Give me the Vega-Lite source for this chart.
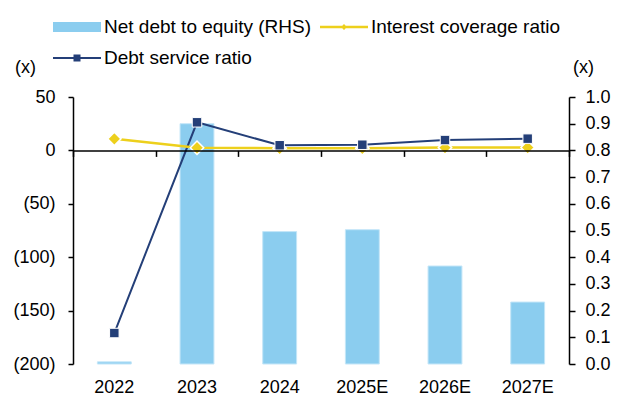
{
  "$schema": "https://vega.github.io/schema/vega-lite/v6.json",
  "width": 496,
  "height": 267,
  "autosize": {"type": "none"},
  "padding": {"left": 73, "top": 97, "right": 52, "bottom": 39},
  "background": "white",
  "config": {
    "font": "Liberation Sans",
    "view": {"stroke": null},
    "axis": {
      "labelFont": "Liberation Sans",
      "labelFontSize": 18,
      "labelColor": "#000000",
      "titleFont": "Liberation Sans",
      "titleFontSize": 18,
      "titleFontWeight": "normal",
      "titleColor": "#000000",
      "domainColor": "#000000",
      "tickColor": "#000000",
      "domainWidth": 1.5,
      "tickWidth": 1.5,
      "grid": false
    },
    "legend": {
      "title": null,
      "orient": "none",
      "legendX": -21,
      "legendY": -81,
      "columns": 2,
      "columnPadding": 5,
      "rowPadding": 10,
      "padding": 0,
      "symbolSize": 400,
      "symbolStrokeWidth": 2,
      "symbolOpacity": 1,
      "labelFont": "Liberation Sans",
      "labelFontSize": 19,
      "labelColor": "#000000",
      "labelLimit": 400,
      "labelOffset": 30
    }
  },
  "data": {
    "values": [
      {"year": "2022", "series": "Net debt to equity (RHS)", "value": 0.008},
      {"year": "2023", "series": "Net debt to equity (RHS)", "value": 0.90},
      {"year": "2024", "series": "Net debt to equity (RHS)", "value": 0.496},
      {"year": "2025E", "series": "Net debt to equity (RHS)", "value": 0.503},
      {"year": "2026E", "series": "Net debt to equity (RHS)", "value": 0.367},
      {"year": "2027E", "series": "Net debt to equity (RHS)", "value": 0.232},
      {"year": "2022", "series": "Interest coverage ratio", "value": 10.8},
      {"year": "2023", "series": "Interest coverage ratio", "value": 2.5},
      {"year": "2024", "series": "Interest coverage ratio", "value": 2.0},
      {"year": "2025E", "series": "Interest coverage ratio", "value": 2.0},
      {"year": "2026E", "series": "Interest coverage ratio", "value": 2.6},
      {"year": "2027E", "series": "Interest coverage ratio", "value": 2.7},
      {"year": "2022", "series": "Debt service ratio", "value": -171},
      {"year": "2023", "series": "Debt service ratio", "value": 26.3},
      {"year": "2024", "series": "Debt service ratio", "value": 4.8},
      {"year": "2025E", "series": "Debt service ratio", "value": 5.3},
      {"year": "2026E", "series": "Debt service ratio", "value": 9.7},
      {"year": "2027E", "series": "Debt service ratio", "value": 11.0}
    ]
  },
  "layer": [
    {
      "transform": [{"filter": "datum.series === 'Net debt to equity (RHS)'"}],
      "mark": {"type": "bar", "width": {"band": 0.41}, "fill": "#8BCDEF", "stroke": "#C4E6F8", "strokeWidth": 1},
      "encoding": {
        "x": {
          "field": "year", "type": "nominal", "sort": null,
          "scale": {"paddingInner": 0, "paddingOuter": 0},
          "axis": {"orient": "bottom", "title": null, "domain": false, "ticks": false, "labelAngle": 0, "labelPadding": 14}
        },
        "y": {
          "field": "value", "type": "quantitative",
          "scale": {"domain": [0, 1], "nice": false},
          "axis": {
            "orient": "right", "title": "(x)", "titleAngle": 0, "titleX": 14, "titleY": -30,
            "titleAlign": "center", "titleBaseline": "middle",
            "values": [0, 0.1, 0.2, 0.3, 0.4, 0.5, 0.6, 0.7, 0.8, 0.9, 1.0],
            "format": ".1f", "tickSize": 6, "labelPadding": 10
          }
        }
      }
    },
    {
      "encoding": {
        "x": {
          "field": "year", "type": "nominal", "sort": null,
          "axis": {"orient": "bottom", "title": null, "labels": false, "ticks": true, "tickSize": 6, "tickBand": "extent", "domain": true, "offset": -213.6, "zindex": 1}
        },
        "y": {
          "field": "value", "type": "quantitative",
          "scale": {"domain": [-200, 50], "nice": false},
          "axis": {
            "orient": "left", "title": "(x)", "titleAngle": 0, "titleX": -48, "titleY": -30,
            "titleAlign": "center", "titleBaseline": "middle",
            "values": [-200, -150, -100, -50, 0, 50],
            "labelExpr": "datum.value < 0 ? '(' + (-datum.value) + ')' : datum.value + '\u00a0'",
            "tickSize": 5, "labelPadding": 13
          }
        }
      },
      "layer": [
        {
          "transform": [{"filter": "datum.series === 'Debt service ratio'"}],
          "mark": {"type": "line", "strokeWidth": 2, "color": "#243F78"}
        },
        {
          "transform": [{"filter": "datum.series === 'Interest coverage ratio'"}],
          "mark": {"type": "line", "strokeWidth": 2.5, "color": "#EDD01C"}
        },
        {
          "transform": [{"filter": "datum.series === 'Interest coverage ratio'"}],
          "mark": {"type": "point", "shape": "diamond", "filled": true, "size": 180, "fill": "#EDD01C", "stroke": "white", "strokeWidth": 1.5, "opacity": 1}
        },
        {
          "transform": [{"filter": "datum.series === 'Debt service ratio'"}],
          "mark": {"type": "point", "shape": "square", "filled": true, "size": 90, "fill": "#243F78", "stroke": "white", "strokeWidth": 1, "opacity": 1}
        },
        {
          "transform": [{"filter": "false"}],
          "mark": {"type": "point", "filled": true, "size": 400, "opacity": 1},
          "encoding": {
            "color": {
              "field": "series", "type": "nominal",
              "scale": {
                "domain": ["Net debt to equity (RHS)", "Debt service ratio", "Interest coverage ratio"],
                "range": ["#8BCDEF", "#243F78", "#EDD01C"]
              }
            },
            "shape": {
              "field": "series", "type": "nominal",
              "scale": {
                "domain": ["Net debt to equity (RHS)", "Debt service ratio", "Interest coverage ratio"],
                "range": [
                  "M-1,-0.5H3.8V0.5H-1Z",
                  "M-1,-0.1H3.8V0.1H-1ZM1.05,-0.35H1.75V0.35H1.05Z",
                  "M-1,-0.12H3.8V0.12H-1ZM1.4,-0.3L1.7,0L1.4,0.3L1.1,0Z"
                ]
              }
            }
          }
        }
      ]
    }
  ],
  "resolve": {
    "scale": {"y": "independent"},
    "axis": {"x": "independent", "y": "independent"}
  }
}
